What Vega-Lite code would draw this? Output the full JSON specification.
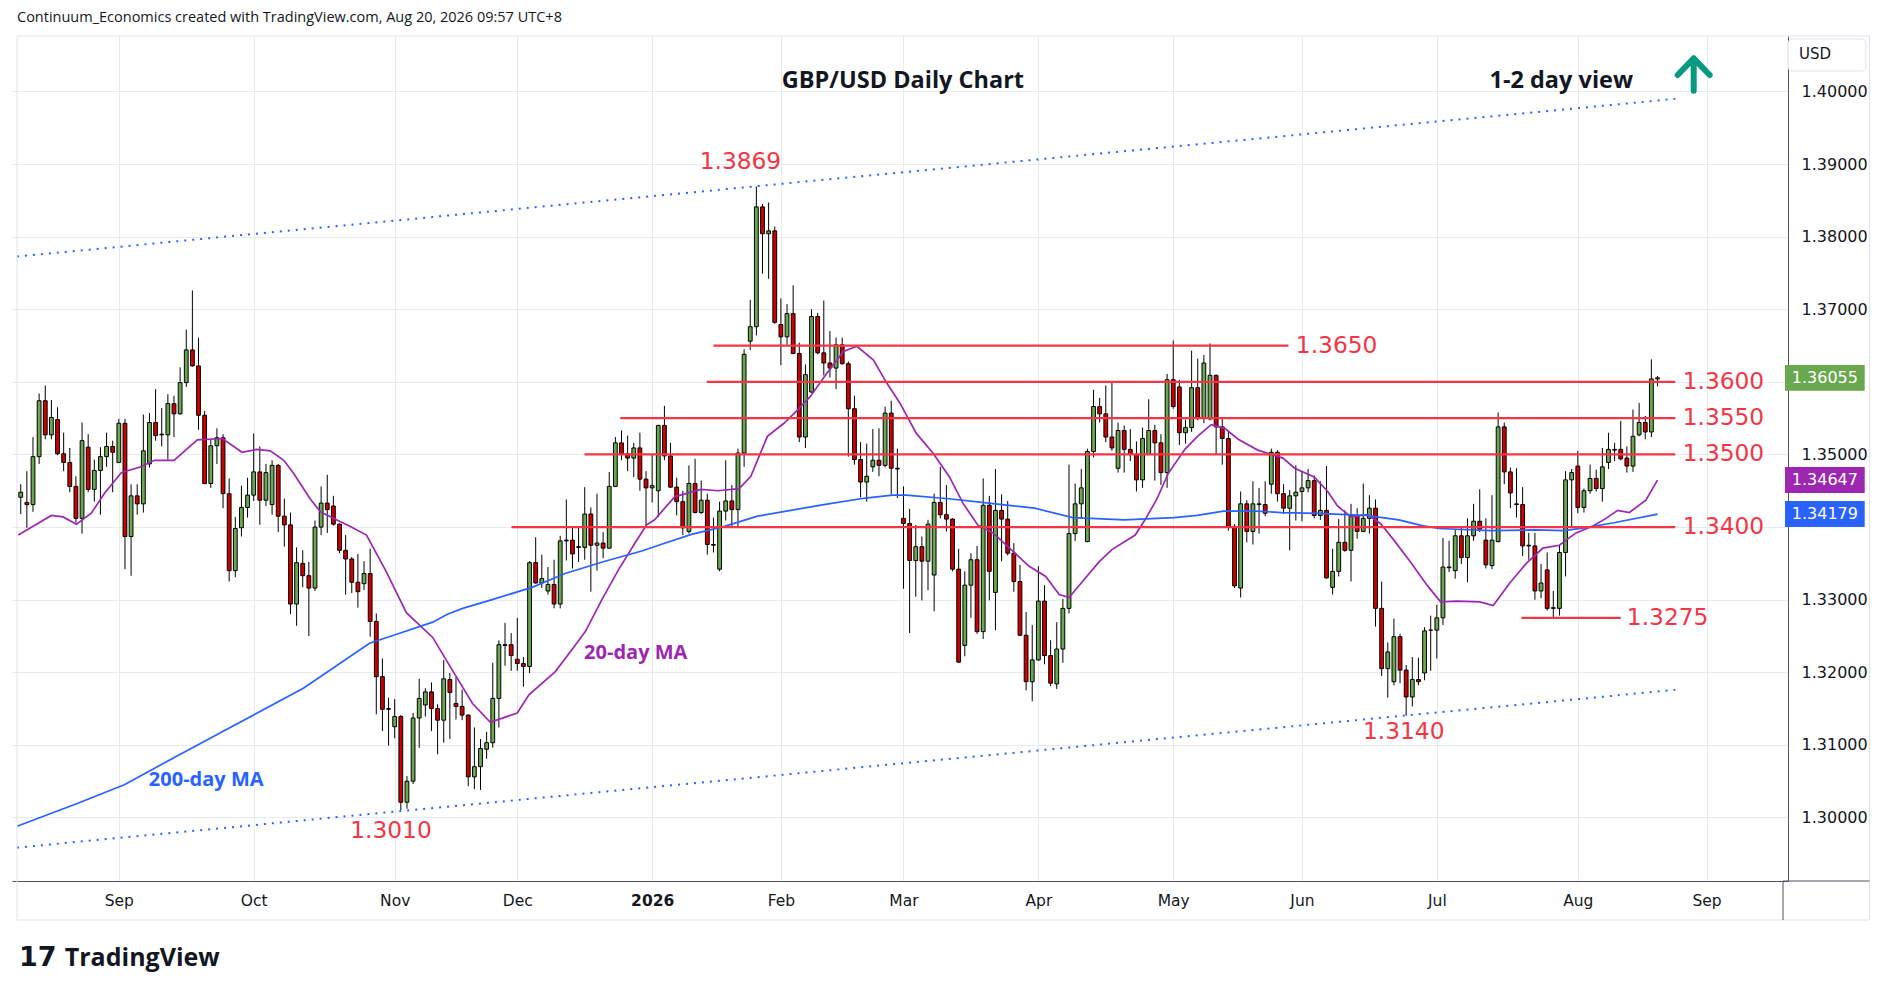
{
  "$schema": "https://vega.github.io/schema/vega-lite/v6.json",
  "width": 1776,
  "height": 845,
  "autosize": {"type": "none"},
  "padding": {"left": 12, "top": 36, "right": 100, "bottom": 115},
  "background": "#ffffff",
  "config": {"view": {"stroke": null}},
  "resolve": {"axis": {"x": "independent", "y": "independent"}},
  "datasets": {
    "candles": [
      {"d":"2025-08-08","o":1.3441,"h":1.3459,"l":1.3418,"c":1.3448},
      {"d":"2025-08-11","o":1.3434,"h":1.3477,"l":1.3399,"c":1.3431},
      {"d":"2025-08-12","o":1.3431,"h":1.3524,"l":1.3421,"c":1.3497},
      {"d":"2025-08-13","o":1.3497,"h":1.3584,"l":1.3487,"c":1.3574},
      {"d":"2025-08-14","o":1.3574,"h":1.3595,"l":1.3521,"c":1.3527},
      {"d":"2025-08-15","o":1.3527,"h":1.3575,"l":1.3521,"c":1.3551},
      {"d":"2025-08-18","o":1.3548,"h":1.3565,"l":1.3499,"c":1.3501},
      {"d":"2025-08-19","o":1.3501,"h":1.3530,"l":1.3477,"c":1.3489},
      {"d":"2025-08-20","o":1.3489,"h":1.3509,"l":1.3448,"c":1.3456},
      {"d":"2025-08-21","o":1.3456,"h":1.3470,"l":1.3406,"c":1.3412},
      {"d":"2025-08-22","o":1.3412,"h":1.3544,"l":1.3391,"c":1.3519},
      {"d":"2025-08-25","o":1.3510,"h":1.3528,"l":1.3448,"c":1.3452},
      {"d":"2025-08-26","o":1.3452,"h":1.3493,"l":1.3435,"c":1.3478},
      {"d":"2025-08-27","o":1.3478,"h":1.3510,"l":1.3417,"c":1.3497},
      {"d":"2025-08-28","o":1.3497,"h":1.3530,"l":1.3483,"c":1.3511},
      {"d":"2025-08-29","o":1.3511,"h":1.3519,"l":1.3448,"c":1.3503},
      {"d":"2025-09-01","o":1.3489,"h":1.3549,"l":1.3488,"c":1.3543},
      {"d":"2025-09-02","o":1.3543,"h":1.3549,"l":1.3342,"c":1.3387},
      {"d":"2025-09-03","o":1.3387,"h":1.3459,"l":1.3333,"c":1.3443},
      {"d":"2025-09-04","o":1.3443,"h":1.3459,"l":1.3417,"c":1.3432},
      {"d":"2025-09-05","o":1.3432,"h":1.3555,"l":1.3420,"c":1.3505},
      {"d":"2025-09-08","o":1.3487,"h":1.3557,"l":1.3482,"c":1.3544},
      {"d":"2025-09-09","o":1.3544,"h":1.3590,"l":1.3519,"c":1.3526},
      {"d":"2025-09-10","o":1.3527,"h":1.3564,"l":1.3511,"c":1.3528},
      {"d":"2025-09-11","o":1.3527,"h":1.3583,"l":1.3493,"c":1.3570},
      {"d":"2025-09-12","o":1.3570,"h":1.3581,"l":1.3524,"c":1.3556},
      {"d":"2025-09-15","o":1.3556,"h":1.3620,"l":1.3555,"c":1.3599},
      {"d":"2025-09-16","o":1.3599,"h":1.3672,"l":1.3593,"c":1.3644},
      {"d":"2025-09-17","o":1.3644,"h":1.3726,"l":1.3621,"c":1.3622},
      {"d":"2025-09-18","o":1.3622,"h":1.3661,"l":1.3534,"c":1.3554},
      {"d":"2025-09-19","o":1.3554,"h":1.3560,"l":1.3459,"c":1.3460},
      {"d":"2025-09-22","o":1.3460,"h":1.3521,"l":1.3454,"c":1.3512},
      {"d":"2025-09-23","o":1.3512,"h":1.3536,"l":1.3487,"c":1.3523},
      {"d":"2025-09-24","o":1.3523,"h":1.3528,"l":1.3426,"c":1.3446},
      {"d":"2025-09-25","o":1.3446,"h":1.3467,"l":1.3325,"c":1.3340},
      {"d":"2025-09-26","o":1.3340,"h":1.3414,"l":1.3331,"c":1.3398},
      {"d":"2025-09-29","o":1.3399,"h":1.3457,"l":1.3387,"c":1.3427},
      {"d":"2025-09-30","o":1.3427,"h":1.3468,"l":1.3413,"c":1.3444},
      {"d":"2025-10-01","o":1.3444,"h":1.3529,"l":1.3436,"c":1.3476},
      {"d":"2025-10-02","o":1.3476,"h":1.3511,"l":1.3403,"c":1.3437},
      {"d":"2025-10-03","o":1.3437,"h":1.3487,"l":1.3429,"c":1.3475},
      {"d":"2025-10-06","o":1.3431,"h":1.3492,"l":1.3417,"c":1.3485},
      {"d":"2025-10-07","o":1.3485,"h":1.3487,"l":1.3393,"c":1.3415},
      {"d":"2025-10-08","o":1.3415,"h":1.3439,"l":1.3373,"c":1.3403},
      {"d":"2025-10-09","o":1.3403,"h":1.3420,"l":1.3280,"c":1.3294},
      {"d":"2025-10-10","o":1.3294,"h":1.3372,"l":1.3264,"c":1.3351},
      {"d":"2025-10-13","o":1.3350,"h":1.3368,"l":1.3317,"c":1.3333},
      {"d":"2025-10-14","o":1.3333,"h":1.3352,"l":1.3250,"c":1.3316},
      {"d":"2025-10-15","o":1.3316,"h":1.3409,"l":1.3312,"c":1.3400},
      {"d":"2025-10-16","o":1.3400,"h":1.3456,"l":1.3389,"c":1.3433},
      {"d":"2025-10-17","o":1.3433,"h":1.3472,"l":1.3392,"c":1.3424},
      {"d":"2025-10-20","o":1.3429,"h":1.3443,"l":1.3402,"c":1.3404},
      {"d":"2025-10-21","o":1.3404,"h":1.3405,"l":1.3364,"c":1.3368},
      {"d":"2025-10-22","o":1.3368,"h":1.3389,"l":1.3307,"c":1.3356},
      {"d":"2025-10-23","o":1.3356,"h":1.3359,"l":1.3309,"c":1.3324},
      {"d":"2025-10-24","o":1.3324,"h":1.3363,"l":1.3289,"c":1.3311},
      {"d":"2025-10-27","o":1.3322,"h":1.3353,"l":1.3313,"c":1.3336},
      {"d":"2025-10-28","o":1.3336,"h":1.3370,"l":1.3249,"c":1.3270},
      {"d":"2025-10-29","o":1.3270,"h":1.3281,"l":1.3142,"c":1.3194},
      {"d":"2025-10-30","o":1.3194,"h":1.3219,"l":1.3119,"c":1.3149},
      {"d":"2025-10-31","o":1.3149,"h":1.3165,"l":1.3099,"c":1.3150},
      {"d":"2025-11-03","o":1.3125,"h":1.3163,"l":1.3109,"c":1.3139},
      {"d":"2025-11-04","o":1.3139,"h":1.3141,"l":1.3010,"c":1.3021},
      {"d":"2025-11-05","o":1.3021,"h":1.3057,"l":1.3012,"c":1.3050},
      {"d":"2025-11-06","o":1.3050,"h":1.3144,"l":1.3046,"c":1.3137},
      {"d":"2025-11-07","o":1.3137,"h":1.3191,"l":1.3096,"c":1.3164},
      {"d":"2025-11-10","o":1.3155,"h":1.3178,"l":1.3139,"c":1.3173},
      {"d":"2025-11-11","o":1.3173,"h":1.3186,"l":1.3119,"c":1.3150},
      {"d":"2025-11-12","o":1.3150,"h":1.3156,"l":1.3087,"c":1.3134},
      {"d":"2025-11-13","o":1.3134,"h":1.3217,"l":1.3103,"c":1.3191},
      {"d":"2025-11-14","o":1.3190,"h":1.3199,"l":1.3108,"c":1.3172},
      {"d":"2025-11-17","o":1.3157,"h":1.3193,"l":1.3135,"c":1.3153},
      {"d":"2025-11-18","o":1.3153,"h":1.3176,"l":1.3134,"c":1.3141},
      {"d":"2025-11-19","o":1.3141,"h":1.3142,"l":1.3043,"c":1.3056},
      {"d":"2025-11-20","o":1.3056,"h":1.3124,"l":1.3039,"c":1.3070},
      {"d":"2025-11-21","o":1.3070,"h":1.3108,"l":1.3038,"c":1.3095},
      {"d":"2025-11-24","o":1.3094,"h":1.3118,"l":1.3081,"c":1.3103},
      {"d":"2025-11-25","o":1.3103,"h":1.3213,"l":1.3096,"c":1.3164},
      {"d":"2025-11-26","o":1.3164,"h":1.3244,"l":1.3124,"c":1.3238},
      {"d":"2025-11-27","o":1.3238,"h":1.3268,"l":1.3209,"c":1.3237},
      {"d":"2025-11-28","o":1.3238,"h":1.3254,"l":1.3202,"c":1.3223},
      {"d":"2025-12-01","o":1.3218,"h":1.3275,"l":1.3202,"c":1.3212},
      {"d":"2025-12-02","o":1.3212,"h":1.3221,"l":1.3180,"c":1.3208},
      {"d":"2025-12-03","o":1.3208,"h":1.3353,"l":1.3199,"c":1.3351},
      {"d":"2025-12-04","o":1.3351,"h":1.3386,"l":1.3322,"c":1.3323},
      {"d":"2025-12-05","o":1.3323,"h":1.3362,"l":1.3316,"c":1.3329},
      {"d":"2025-12-08","o":1.3312,"h":1.3345,"l":1.3307,"c":1.3321},
      {"d":"2025-12-09","o":1.3321,"h":1.3355,"l":1.3288,"c":1.3294},
      {"d":"2025-12-10","o":1.3294,"h":1.3388,"l":1.3288,"c":1.3381},
      {"d":"2025-12-11","o":1.3382,"h":1.3438,"l":1.3354,"c":1.3381},
      {"d":"2025-12-12","o":1.3382,"h":1.3400,"l":1.3343,"c":1.3363},
      {"d":"2025-12-15","o":1.3372,"h":1.3401,"l":1.3352,"c":1.3373},
      {"d":"2025-12-16","o":1.3372,"h":1.3455,"l":1.3355,"c":1.3418},
      {"d":"2025-12-17","o":1.3418,"h":1.3427,"l":1.3311,"c":1.3375},
      {"d":"2025-12-18","o":1.3375,"h":1.3446,"l":1.3340,"c":1.3378},
      {"d":"2025-12-19","o":1.3378,"h":1.3393,"l":1.3357,"c":1.3371},
      {"d":"2025-12-22","o":1.3371,"h":1.3476,"l":1.3370,"c":1.3456},
      {"d":"2025-12-23","o":1.3456,"h":1.3524,"l":1.3455,"c":1.3516},
      {"d":"2025-12-24","o":1.3516,"h":1.3533,"l":1.3492,"c":1.3501},
      {"d":"2025-12-26","o":1.3501,"h":1.3526,"l":1.3477,"c":1.3495},
      {"d":"2025-12-29","o":1.3495,"h":1.3516,"l":1.3469,"c":1.3509},
      {"d":"2025-12-30","o":1.3509,"h":1.3530,"l":1.3450,"c":1.3466},
      {"d":"2025-12-31","o":1.3466,"h":1.3477,"l":1.3402,"c":1.3454},
      {"d":"2026-01-02","o":1.3454,"h":1.3501,"l":1.3434,"c":1.3457},
      {"d":"2026-01-05","o":1.3450,"h":1.3541,"l":1.3414,"c":1.3540},
      {"d":"2026-01-06","o":1.3540,"h":1.3567,"l":1.3492,"c":1.3498},
      {"d":"2026-01-07","o":1.3498,"h":1.3516,"l":1.3454,"c":1.3455},
      {"d":"2026-01-08","o":1.3455,"h":1.3468,"l":1.3416,"c":1.3435},
      {"d":"2026-01-09","o":1.3435,"h":1.3450,"l":1.3389,"c":1.3399},
      {"d":"2026-01-12","o":1.3394,"h":1.3485,"l":1.3391,"c":1.3460},
      {"d":"2026-01-13","o":1.3460,"h":1.3494,"l":1.3419,"c":1.3420},
      {"d":"2026-01-14","o":1.3420,"h":1.3464,"l":1.3418,"c":1.3437},
      {"d":"2026-01-15","o":1.3437,"h":1.3446,"l":1.3362,"c":1.3376},
      {"d":"2026-01-16","o":1.3376,"h":1.3413,"l":1.3365,"c":1.3375},
      {"d":"2026-01-19","o":1.3342,"h":1.3435,"l":1.3339,"c":1.3422},
      {"d":"2026-01-20","o":1.3422,"h":1.3492,"l":1.3409,"c":1.3436},
      {"d":"2026-01-21","o":1.3436,"h":1.3458,"l":1.3401,"c":1.3424},
      {"d":"2026-01-22","o":1.3424,"h":1.3508,"l":1.3401,"c":1.3502},
      {"d":"2026-01-23","o":1.3502,"h":1.3645,"l":1.3483,"c":1.3638},
      {"d":"2026-01-26","o":1.3656,"h":1.3713,"l":1.3644,"c":1.3676},
      {"d":"2026-01-27","o":1.3676,"h":1.3869,"l":1.3664,"c":1.3841},
      {"d":"2026-01-28","o":1.3841,"h":1.3845,"l":1.3749,"c":1.3804},
      {"d":"2026-01-29","o":1.3804,"h":1.3847,"l":1.3742,"c":1.3808},
      {"d":"2026-01-30","o":1.3808,"h":1.3814,"l":1.3680,"c":1.3682},
      {"d":"2026-02-02","o":1.3679,"h":1.3715,"l":1.3623,"c":1.3662},
      {"d":"2026-02-03","o":1.3662,"h":1.3707,"l":1.3651,"c":1.3694},
      {"d":"2026-02-04","o":1.3694,"h":1.3733,"l":1.3638,"c":1.3639},
      {"d":"2026-02-05","o":1.3639,"h":1.3654,"l":1.3517,"c":1.3524},
      {"d":"2026-02-06","o":1.3524,"h":1.3624,"l":1.3509,"c":1.3610},
      {"d":"2026-02-09","o":1.3586,"h":1.3700,"l":1.3585,"c":1.3690},
      {"d":"2026-02-10","o":1.3690,"h":1.3695,"l":1.3638,"c":1.3640},
      {"d":"2026-02-11","o":1.3640,"h":1.3712,"l":1.3609,"c":1.3626},
      {"d":"2026-02-12","o":1.3626,"h":1.3670,"l":1.3606,"c":1.3619},
      {"d":"2026-02-13","o":1.3619,"h":1.3661,"l":1.3590,"c":1.3651},
      {"d":"2026-02-16","o":1.3651,"h":1.3661,"l":1.3624,"c":1.3625},
      {"d":"2026-02-17","o":1.3625,"h":1.3628,"l":1.3497,"c":1.3563},
      {"d":"2026-02-18","o":1.3563,"h":1.3581,"l":1.3486,"c":1.3493},
      {"d":"2026-02-19","o":1.3493,"h":1.3517,"l":1.3441,"c":1.3462},
      {"d":"2026-02-20","o":1.3462,"h":1.3515,"l":1.3435,"c":1.3470},
      {"d":"2026-02-23","o":1.3483,"h":1.3535,"l":1.3476,"c":1.3492},
      {"d":"2026-02-24","o":1.3492,"h":1.3536,"l":1.3470,"c":1.3485},
      {"d":"2026-02-25","o":1.3485,"h":1.3566,"l":1.3482,"c":1.3557},
      {"d":"2026-02-26","o":1.3557,"h":1.3574,"l":1.3445,"c":1.3481},
      {"d":"2026-02-27","o":1.3481,"h":1.3508,"l":1.3440,"c":1.3480},
      {"d":"2026-03-02","o":1.3412,"h":1.3456,"l":1.3315,"c":1.3405},
      {"d":"2026-03-03","o":1.3405,"h":1.3425,"l":1.3254,"c":1.3354},
      {"d":"2026-03-04","o":1.3354,"h":1.3403,"l":1.3304,"c":1.3373},
      {"d":"2026-03-05","o":1.3373,"h":1.3387,"l":1.3299,"c":1.3353},
      {"d":"2026-03-06","o":1.3353,"h":1.3410,"l":1.3313,"c":1.3404},
      {"d":"2026-03-09","o":1.3334,"h":1.3446,"l":1.3284,"c":1.3434},
      {"d":"2026-03-10","o":1.3434,"h":1.3483,"l":1.3412,"c":1.3417},
      {"d":"2026-03-11","o":1.3417,"h":1.3458,"l":1.3394,"c":1.3411},
      {"d":"2026-03-12","o":1.3411,"h":1.3412,"l":1.3339,"c":1.3342},
      {"d":"2026-03-13","o":1.3342,"h":1.3370,"l":1.3213,"c":1.3214},
      {"d":"2026-03-16","o":1.3237,"h":1.3339,"l":1.3222,"c":1.3320},
      {"d":"2026-03-17","o":1.3320,"h":1.3364,"l":1.3275,"c":1.3355},
      {"d":"2026-03-18","o":1.3355,"h":1.3374,"l":1.3253,"c":1.3256},
      {"d":"2026-03-19","o":1.3256,"h":1.3467,"l":1.3246,"c":1.3430},
      {"d":"2026-03-20","o":1.3430,"h":1.3443,"l":1.3299,"c":1.3339},
      {"d":"2026-03-23","o":1.3310,"h":1.3480,"l":1.3258,"c":1.3423},
      {"d":"2026-03-24","o":1.3423,"h":1.3445,"l":1.3353,"c":1.3411},
      {"d":"2026-03-25","o":1.3411,"h":1.3436,"l":1.3361,"c":1.3364},
      {"d":"2026-03-26","o":1.3364,"h":1.3378,"l":1.3311,"c":1.3325},
      {"d":"2026-03-27","o":1.3325,"h":1.3348,"l":1.3250,"c":1.3251},
      {"d":"2026-03-30","o":1.3251,"h":1.3283,"l":1.3175,"c":1.3187},
      {"d":"2026-03-31","o":1.3187,"h":1.3265,"l":1.3160,"c":1.3217},
      {"d":"2026-04-01","o":1.3217,"h":1.3346,"l":1.3216,"c":1.3298},
      {"d":"2026-04-02","o":1.3298,"h":1.3320,"l":1.3211,"c":1.3223},
      {"d":"2026-04-03","o":1.3223,"h":1.3244,"l":1.3181,"c":1.3185},
      {"d":"2026-04-06","o":1.3184,"h":1.3269,"l":1.3177,"c":1.3232},
      {"d":"2026-04-07","o":1.3232,"h":1.3301,"l":1.3213,"c":1.3288},
      {"d":"2026-04-08","o":1.3288,"h":1.3486,"l":1.3281,"c":1.3391},
      {"d":"2026-04-09","o":1.3391,"h":1.3460,"l":1.3381,"c":1.3432},
      {"d":"2026-04-10","o":1.3432,"h":1.3480,"l":1.3411,"c":1.3454},
      {"d":"2026-04-13","o":1.3380,"h":1.3508,"l":1.3379,"c":1.3504},
      {"d":"2026-04-14","o":1.3504,"h":1.3589,"l":1.3496,"c":1.3566},
      {"d":"2026-04-15","o":1.3566,"h":1.3578,"l":1.3544,"c":1.3556},
      {"d":"2026-04-16","o":1.3556,"h":1.3595,"l":1.3517,"c":1.3524},
      {"d":"2026-04-17","o":1.3524,"h":1.3599,"l":1.3505,"c":1.3509},
      {"d":"2026-04-20","o":1.3481,"h":1.3544,"l":1.3475,"c":1.3533},
      {"d":"2026-04-21","o":1.3533,"h":1.3540,"l":1.3475,"c":1.3507},
      {"d":"2026-04-22","o":1.3507,"h":1.3535,"l":1.3491,"c":1.3500},
      {"d":"2026-04-23","o":1.3500,"h":1.3518,"l":1.3449,"c":1.3465},
      {"d":"2026-04-24","o":1.3465,"h":1.3537,"l":1.3454,"c":1.3522},
      {"d":"2026-04-27","o":1.3500,"h":1.3576,"l":1.3499,"c":1.3533},
      {"d":"2026-04-28","o":1.3533,"h":1.3541,"l":1.3464,"c":1.3516},
      {"d":"2026-04-29","o":1.3516,"h":1.3528,"l":1.3458,"c":1.3475},
      {"d":"2026-04-30","o":1.3475,"h":1.3611,"l":1.3454,"c":1.3603},
      {"d":"2026-05-01","o":1.3603,"h":1.3657,"l":1.3563,"c":1.3566},
      {"d":"2026-05-04","o":1.3593,"h":1.3603,"l":1.3513,"c":1.3530},
      {"d":"2026-05-05","o":1.3530,"h":1.3548,"l":1.3515,"c":1.3537},
      {"d":"2026-05-06","o":1.3537,"h":1.3643,"l":1.3531,"c":1.3592},
      {"d":"2026-05-07","o":1.3592,"h":1.3632,"l":1.3547,"c":1.3551},
      {"d":"2026-05-08","o":1.3551,"h":1.3637,"l":1.3543,"c":1.3626},
      {"d":"2026-05-11","o":1.3549,"h":1.3653,"l":1.3547,"c":1.3609},
      {"d":"2026-05-12","o":1.3609,"h":1.3610,"l":1.3500,"c":1.3538},
      {"d":"2026-05-13","o":1.3538,"h":1.3551,"l":1.3486,"c":1.3522},
      {"d":"2026-05-14","o":1.3522,"h":1.3532,"l":1.3395,"c":1.3401},
      {"d":"2026-05-15","o":1.3401,"h":1.3404,"l":1.3316,"c":1.3319},
      {"d":"2026-05-18","o":1.3316,"h":1.3449,"l":1.3303,"c":1.3432},
      {"d":"2026-05-19","o":1.3432,"h":1.3437,"l":1.3379,"c":1.3394},
      {"d":"2026-05-20","o":1.3394,"h":1.3463,"l":1.3376,"c":1.3432},
      {"d":"2026-05-21","o":1.3432,"h":1.3454,"l":1.3391,"c":1.3431},
      {"d":"2026-05-22","o":1.3431,"h":1.3463,"l":1.3415,"c":1.3419},
      {"d":"2026-05-25","o":1.3459,"h":1.3508,"l":1.3446,"c":1.3503},
      {"d":"2026-05-26","o":1.3503,"h":1.3506,"l":1.3435,"c":1.3446},
      {"d":"2026-05-27","o":1.3446,"h":1.3459,"l":1.3418,"c":1.3426},
      {"d":"2026-05-28","o":1.3426,"h":1.3451,"l":1.3368,"c":1.3443},
      {"d":"2026-05-29","o":1.3443,"h":1.3485,"l":1.3409,"c":1.3448},
      {"d":"2026-06-01","o":1.3449,"h":1.3476,"l":1.3408,"c":1.3454},
      {"d":"2026-06-02","o":1.3454,"h":1.3480,"l":1.3448,"c":1.3464},
      {"d":"2026-06-03","o":1.3464,"h":1.3471,"l":1.3412,"c":1.3416},
      {"d":"2026-06-04","o":1.3416,"h":1.3463,"l":1.3410,"c":1.3423},
      {"d":"2026-06-05","o":1.3423,"h":1.3484,"l":1.3329,"c":1.3330},
      {"d":"2026-06-08","o":1.3317,"h":1.3370,"l":1.3307,"c":1.3339},
      {"d":"2026-06-09","o":1.3339,"h":1.3411,"l":1.3332,"c":1.3379},
      {"d":"2026-06-10","o":1.3379,"h":1.3423,"l":1.3366,"c":1.3368},
      {"d":"2026-06-11","o":1.3368,"h":1.3432,"l":1.3325,"c":1.3416},
      {"d":"2026-06-12","o":1.3416,"h":1.3426,"l":1.3384,"c":1.3394},
      {"d":"2026-06-15","o":1.3394,"h":1.3460,"l":1.3393,"c":1.3412},
      {"d":"2026-06-16","o":1.3412,"h":1.3444,"l":1.3391,"c":1.3426},
      {"d":"2026-06-17","o":1.3426,"h":1.3438,"l":1.3263,"c":1.3288},
      {"d":"2026-06-18","o":1.3288,"h":1.3325,"l":1.3195,"c":1.3205},
      {"d":"2026-06-19","o":1.3205,"h":1.3241,"l":1.3165,"c":1.3228},
      {"d":"2026-06-22","o":1.3187,"h":1.3274,"l":1.3182,"c":1.3249},
      {"d":"2026-06-23","o":1.3249,"h":1.3253,"l":1.3185,"c":1.3203},
      {"d":"2026-06-24","o":1.3203,"h":1.3210,"l":1.3140,"c":1.3166},
      {"d":"2026-06-25","o":1.3166,"h":1.3221,"l":1.3153,"c":1.3190},
      {"d":"2026-06-26","o":1.3190,"h":1.3220,"l":1.3182,"c":1.3187},
      {"d":"2026-06-29","o":1.3199,"h":1.3262,"l":1.3189,"c":1.3257},
      {"d":"2026-06-30","o":1.3258,"h":1.3278,"l":1.3202,"c":1.3258},
      {"d":"2026-07-01","o":1.3258,"h":1.3293,"l":1.3219,"c":1.3275},
      {"d":"2026-07-02","o":1.3275,"h":1.3385,"l":1.3265,"c":1.3345},
      {"d":"2026-07-03","o":1.3344,"h":1.3381,"l":1.3338,"c":1.3345},
      {"d":"2026-07-06","o":1.3340,"h":1.3397,"l":1.3329,"c":1.3388},
      {"d":"2026-07-07","o":1.3388,"h":1.3401,"l":1.3349,"c":1.3358},
      {"d":"2026-07-08","o":1.3358,"h":1.3412,"l":1.3324,"c":1.3388},
      {"d":"2026-07-09","o":1.3388,"h":1.3432,"l":1.3381,"c":1.3408},
      {"d":"2026-07-10","o":1.3408,"h":1.3452,"l":1.3393,"c":1.3397},
      {"d":"2026-07-13","o":1.3382,"h":1.3412,"l":1.3343,"c":1.3348},
      {"d":"2026-07-14","o":1.3347,"h":1.3444,"l":1.3342,"c":1.3382},
      {"d":"2026-07-15","o":1.3380,"h":1.3558,"l":1.3379,"c":1.3538},
      {"d":"2026-07-16","o":1.3538,"h":1.3544,"l":1.3459,"c":1.3476},
      {"d":"2026-07-17","o":1.3476,"h":1.3482,"l":1.3426,"c":1.3447},
      {"d":"2026-07-20","o":1.3432,"h":1.3481,"l":1.3413,"c":1.3431},
      {"d":"2026-07-21","o":1.3431,"h":1.3455,"l":1.3360,"c":1.3374},
      {"d":"2026-07-22","o":1.3374,"h":1.3392,"l":1.3355,"c":1.3375},
      {"d":"2026-07-23","o":1.3374,"h":1.3392,"l":1.3300,"c":1.3312},
      {"d":"2026-07-24","o":1.3312,"h":1.3349,"l":1.3302,"c":1.3323},
      {"d":"2026-07-27","o":1.3341,"h":1.3365,"l":1.3285,"c":1.3288},
      {"d":"2026-07-28","o":1.3289,"h":1.3312,"l":1.3274,"c":1.3288},
      {"d":"2026-07-29","o":1.3288,"h":1.3376,"l":1.3278,"c":1.3365},
      {"d":"2026-07-30","o":1.3365,"h":1.3477,"l":1.3332,"c":1.3465},
      {"d":"2026-07-31","o":1.3465,"h":1.3480,"l":1.3401,"c":1.3475},
      {"d":"2026-08-03","o":1.3484,"h":1.3505,"l":1.3419,"c":1.3427},
      {"d":"2026-08-04","o":1.3427,"h":1.3453,"l":1.3420,"c":1.3450},
      {"d":"2026-08-05","o":1.3450,"h":1.3486,"l":1.3446,"c":1.3467},
      {"d":"2026-08-06","o":1.3467,"h":1.3479,"l":1.3449,"c":1.3453},
      {"d":"2026-08-07","o":1.3453,"h":1.3509,"l":1.3435,"c":1.3483},
      {"d":"2026-08-10","o":1.3489,"h":1.3530,"l":1.3480,"c":1.3507},
      {"d":"2026-08-11","o":1.3507,"h":1.3516,"l":1.3491,"c":1.3506},
      {"d":"2026-08-12","o":1.3507,"h":1.3546,"l":1.3492,"c":1.3494},
      {"d":"2026-08-13","o":1.3495,"h":1.3511,"l":1.3475,"c":1.3484},
      {"d":"2026-08-14","o":1.3484,"h":1.3562,"l":1.3476,"c":1.3525},
      {"d":"2026-08-17","o":1.3527,"h":1.3571,"l":1.3525,"c":1.3544},
      {"d":"2026-08-18","o":1.3544,"h":1.3553,"l":1.3521,"c":1.3531},
      {"d":"2026-08-19","o":1.3531,"h":1.3631,"l":1.3524,"c":1.3604},
      {"d":"2026-08-20","o":1.3604,"h":1.3608,"l":1.3594,"c":1.36055}
    ],
    "ma": [
      {"ma":"20","n":0.6,"v":1.3389},{"ma":"20","n":6.0,"v":1.3416},{"ma":"20","n":7.9,"v":1.3414},
      {"ma":"20","n":10.1,"v":1.3404},{"ma":"20","n":12.5,"v":1.3419},{"ma":"20","n":14.7,"v":1.3447},
      {"ma":"20","n":17.4,"v":1.3475},{"ma":"20","n":20.6,"v":1.3483},{"ma":"20","n":22.8,"v":1.3492},
      {"ma":"20","n":26.0,"v":1.3492},{"ma":"20","n":29.8,"v":1.3520},{"ma":"20","n":33.9,"v":1.3522},
      {"ma":"20","n":37.1,"v":1.3503},{"ma":"20","n":39.5,"v":1.3507},{"ma":"20","n":41.7,"v":1.3505},
      {"ma":"20","n":43.9,"v":1.3492},{"ma":"20","n":45.5,"v":1.3474},{"ma":"20","n":48.2,"v":1.3439},
      {"ma":"20","n":49.9,"v":1.3421},{"ma":"20","n":52.5,"v":1.3410},{"ma":"20","n":54.7,"v":1.3401},
      {"ma":"20","n":57.4,"v":1.3389},{"ma":"20","n":60.6,"v":1.3339},{"ma":"20","n":63.9,"v":1.3282},
      {"ma":"20","n":68.2,"v":1.3248},{"ma":"20","n":71.4,"v":1.3203},{"ma":"20","n":74.7,"v":1.3157},
      {"ma":"20","n":77.6,"v":1.3131},{"ma":"20","n":82.0,"v":1.3144},{"ma":"20","n":83.9,"v":1.3169},
      {"ma":"20","n":88.2,"v":1.3201},{"ma":"20","n":90.9,"v":1.3231},{"ma":"20","n":93.1,"v":1.3256},
      {"ma":"20","n":95.8,"v":1.3300},{"ma":"20","n":98.5,"v":1.3341},{"ma":"20","n":101.2,"v":1.3378},
      {"ma":"20","n":103.1,"v":1.3403},{"ma":"20","n":104.4,"v":1.3410},{"ma":"20","n":107.7,"v":1.3442},
      {"ma":"20","n":112.0,"v":1.3452},{"ma":"20","n":114.7,"v":1.3450},{"ma":"20","n":118.2,"v":1.3453},
      {"ma":"20","n":120.1,"v":1.3470},{"ma":"20","n":122.8,"v":1.3525},{"ma":"20","n":125.5,"v":1.3543},
      {"ma":"20","n":127.7,"v":1.3561},{"ma":"20","n":129.8,"v":1.3580},{"ma":"20","n":132.5,"v":1.3612},
      {"ma":"20","n":135.2,"v":1.3642},{"ma":"20","n":137.4,"v":1.3649},{"ma":"20","n":140.1,"v":1.3630},
      {"ma":"20","n":142.3,"v":1.3598},{"ma":"20","n":144.4,"v":1.3571},{"ma":"20","n":147.1,"v":1.3529},
      {"ma":"20","n":149.8,"v":1.3502},{"ma":"20","n":152.5,"v":1.3469},{"ma":"20","n":154.7,"v":1.3433},
      {"ma":"20","n":157.1,"v":1.3403},{"ma":"20","n":159.6,"v":1.3392},{"ma":"20","n":162.3,"v":1.3371},
      {"ma":"20","n":165.5,"v":1.3346},{"ma":"20","n":168.2,"v":1.3332},{"ma":"20","n":170.4,"v":1.3307},
      {"ma":"20","n":172.0,"v":1.3303},{"ma":"20","n":174.2,"v":1.3325},{"ma":"20","n":176.9,"v":1.3352},
      {"ma":"20","n":179.0,"v":1.3369},{"ma":"20","n":182.8,"v":1.3389},{"ma":"20","n":184.4,"v":1.3410},
      {"ma":"20","n":186.3,"v":1.3438},{"ma":"20","n":188.2,"v":1.3474},{"ma":"20","n":190.9,"v":1.3507},
      {"ma":"20","n":193.1,"v":1.3526},{"ma":"20","n":195.2,"v":1.3541},{"ma":"20","n":197.4,"v":1.3536},
      {"ma":"20","n":199.6,"v":1.3521},{"ma":"20","n":202.8,"v":1.3506},{"ma":"20","n":206.9,"v":1.3495},
      {"ma":"20","n":208.8,"v":1.3481},{"ma":"20","n":212.0,"v":1.3469},{"ma":"20","n":214.2,"v":1.3449},
      {"ma":"20","n":215.8,"v":1.3429},{"ma":"20","n":218.0,"v":1.3414},{"ma":"20","n":220.7,"v":1.3417},
      {"ma":"20","n":222.8,"v":1.3405},{"ma":"20","n":225.0,"v":1.3382},{"ma":"20","n":227.7,"v":1.3352},
      {"ma":"20","n":230.4,"v":1.3320},{"ma":"20","n":232.6,"v":1.3297},{"ma":"20","n":235.3,"v":1.3298},
      {"ma":"20","n":239.0,"v":1.3297},{"ma":"20","n":241.2,"v":1.3292},{"ma":"20","n":243.9,"v":1.3323},
      {"ma":"20","n":246.6,"v":1.3350},{"ma":"20","n":249.3,"v":1.3371},{"ma":"20","n":252.0,"v":1.3375},
      {"ma":"20","n":254.7,"v":1.3392},{"ma":"20","n":257.4,"v":1.3401},{"ma":"20","n":259.6,"v":1.3412},
      {"ma":"20","n":261.5,"v":1.3423},{"ma":"20","n":263.4,"v":1.3420},{"ma":"20","n":266.1,"v":1.3437},
      {"ma":"20","n":268.0,"v":1.34647},
      {"ma":"200","n":0.4,"v":1.2988},{"ma":"200","n":10.1,"v":1.3019},{"ma":"200","n":17.9,"v":1.3045},
      {"ma":"200","n":25.9,"v":1.3082},{"ma":"200","n":34.1,"v":1.3119},{"ma":"200","n":47.1,"v":1.3178},
      {"ma":"200","n":57.9,"v":1.3240},{"ma":"200","n":62.2,"v":1.3252},{"ma":"200","n":68.2,"v":1.3269},
      {"ma":"200","n":70.6,"v":1.3280},{"ma":"200","n":73.1,"v":1.3288},{"ma":"200","n":77.9,"v":1.3300},
      {"ma":"200","n":84.4,"v":1.3317},{"ma":"200","n":89.8,"v":1.3336},{"ma":"200","n":96.3,"v":1.3353},
      {"ma":"200","n":102.3,"v":1.3367},{"ma":"200","n":104.7,"v":1.3374},{"ma":"200","n":110.4,"v":1.3390},
      {"ma":"200","n":115.8,"v":1.3401},{"ma":"200","n":121.2,"v":1.3415},{"ma":"200","n":126.6,"v":1.3423},
      {"ma":"200","n":132.0,"v":1.3431},{"ma":"200","n":138.8,"v":1.3440},{"ma":"200","n":143.2,"v":1.3444},
      {"ma":"200","n":145.4,"v":1.3444},{"ma":"200","n":152.4,"v":1.3439},{"ma":"200","n":157.8,"v":1.3434},
      {"ma":"200","n":166.4,"v":1.3426},{"ma":"200","n":172.6,"v":1.3413},{"ma":"200","n":175.6,"v":1.3412},
      {"ma":"200","n":181.0,"v":1.3410},{"ma":"200","n":189.1,"v":1.3413},{"ma":"200","n":192.9,"v":1.3416},
      {"ma":"200","n":197.2,"v":1.3422},{"ma":"200","n":202.6,"v":1.3422},{"ma":"200","n":206.7,"v":1.3420},
      {"ma":"200","n":212.3,"v":1.3419},{"ma":"200","n":220.4,"v":1.3416},{"ma":"200","n":225.8,"v":1.3410},
      {"ma":"200","n":229.6,"v":1.3402},{"ma":"200","n":232.3,"v":1.3398},{"ma":"200","n":240.7,"v":1.3395},
      {"ma":"200","n":247.9,"v":1.3396},{"ma":"200","n":252.8,"v":1.3395},{"ma":"200","n":256.0,"v":1.3399},
      {"ma":"200","n":260.9,"v":1.3406},{"ma":"200","n":268.0,"v":1.34179}
    ],
    "channel": [
      {"side":"upper","n":0.39,"p":1.37727},{"side":"upper","n":270.9,"p":1.39898},
      {"side":"lower","n":0.39,"p":1.29585},{"side":"lower","n":270.9,"p":1.31758}
    ],
    "levels": [
      {"p":1.365,"n1":114.0,"n2":207.8},
      {"p":1.36,"n1":112.9,"n2":270.9},
      {"p":1.355,"n1":98.8,"n2":270.9},
      {"p":1.35,"n1":92.96,"n2":270.9},
      {"p":1.34,"n1":81.05,"n2":270.9},
      {"p":1.3275,"n1":245.8,"n2":262.0}
    ],
    "levelLabels": [
      {"t":"1.3650","n":209.0,"p":1.365},
      {"t":"1.3600","n":272.1,"p":1.36},
      {"t":"1.3550","n":272.1,"p":1.355},
      {"t":"1.3500","n":272.1,"p":1.35},
      {"t":"1.3400","n":272.1,"p":1.34},
      {"t":"1.3275","n":263.0,"p":1.3275}
    ],
    "pointLabels": [
      {"t":"1.3869","n":118.4,"p":1.39022},
      {"t":"1.3010","n":61.4,"p":1.29817},
      {"t":"1.3140","n":226.6,"p":1.31178}
    ],
    "maLabels": [
      {"ma":"20","t":"20-day MA","n":92.9,"p":1.32259},
      {"ma":"200","t":"200-day MA","n":21.9,"p":1.30514}
    ],
    "tags": [
      {"ma":"px","v":1.36055,"t":"1.36055"},
      {"ma":"20","v":1.34647,"t":"1.34647"},
      {"ma":"200","v":1.34179,"t":"1.34179"}
    ],
    "heads": [
      {"t":"GBP/USD Daily Chart","n":144.9,"p":1.40145},
      {"t":"1-2 day view","n":252.3,"p":1.40149}
    ],
    "frame": [
      {"k":"light","n1":0.39,"n2":302.58,"p1":1.40764,"p2":1.40764},
      {"k":"light","n1":0.39,"n2":302.58,"p1":1.28588,"p2":1.28588},
      {"k":"light","n1":0.39,"n2":0.39,"p1":1.28588,"p2":1.40764},
      {"k":"light","n1":302.58,"n2":302.58,"p1":1.28588,"p2":1.40764},
      {"k":"dark","n1":288.47,"n2":288.47,"p1":1.28588,"p2":1.29125},
      {"k":"dark","n1":288.47,"n2":302.58,"p1":1.29125,"p2":1.29125}
    ]
  },
  "layer": [
    {
      "data": {"name": "candles"},
      "transform": [
        {"window": [{"op": "row_number", "as": "n"}], "sort": [{"field": "d"}]}
      ],
      "mark": {"type": "rule", "color": "#000000", "strokeWidth": 1},
      "encoding": {
        "x": {
          "field": "n", "type": "quantitative",
          "scale": {"domain": [0.39, 288.47], "nice": false, "zero": false},
          "axis": {
            "title": null,
            "values": [17, 39, 62, 82, 104, 125, 145, 167, 189, 210, 232, 255, 276],
            "labelExpr": "['Sep','Oct','Nov','Dec','2026','Feb','Mar','Apr','May','Jun','Jul','Aug','Sep'][indexof([17,39,62,82,104,125,145,167,189,210,232,255,276], datum.value)]",
            "grid": true, "gridColor": "#e6ebf0", "gridWidth": 1,
            "ticks": false, "tickSize": 0,
            "domainColor": "#50535e", "domainWidth": 1,
            "labelFont": "DejaVu Sans", "labelFontSize": 15.5, "labelColor": "#131722",
            "labelPadding": 19, "labelBaseline": "middle",
            "labelFontWeight": {"condition": {"test": "datum.value == 104", "value": "bold"}, "value": "normal"},
            "labelOverlap": false, "labelFlush": false
          }
        },
        "y": {
          "field": "l", "type": "quantitative",
          "scale": {"domain": [1.29125, 1.40764], "nice": false, "zero": false},
          "axis": {
            "title": null, "orient": "right",
            "values": [1.30, 1.31, 1.32, 1.33, 1.34, 1.35, 1.36, 1.37, 1.38, 1.39, 1.40],
            "labelExpr": "datum.value == 1.34 || datum.value == 1.36 ? '' : format(datum.value, '.5f')",
            "grid": true, "gridColor": "#e6ebf0", "gridWidth": 1,
            "ticks": false, "tickSize": 0,
            "domainColor": "#50535e", "domainWidth": 1,
            "labelFont": "DejaVu Sans", "labelFontSize": 16, "labelColor": "#131722",
            "labelPadding": 13, "labelAlign": "left", "labelOverlap": false
          }
        },
        "y2": {"field": "h"}
      }
    },
    {
      "data": {"name": "candles"},
      "transform": [
        {"window": [{"op": "row_number", "as": "n"}], "sort": [{"field": "d"}]}
      ],
      "mark": {"type": "bar", "width": 3.8, "stroke": "#000000", "strokeWidth": 1},
      "encoding": {
        "x": {"field": "n", "type": "quantitative", "scale": {"domain": [0.39, 288.47], "nice": false, "zero": false}, "axis": null},
        "y": {"field": "o", "type": "quantitative", "scale": {"domain": [1.29125, 1.40764], "nice": false, "zero": false}, "axis": null},
        "y2": {"field": "c"},
        "fill": {"condition": {"test": "datum.c >= datum.o", "value": "#6aa84f"}, "value": "#cc0000"}
      }
    },
    {
      "data": {"name": "ma"},
      "mark": {"type": "line", "strokeWidth": 1.7},
      "encoding": {
        "x": {"field": "n", "type": "quantitative", "scale": {"domain": [0.39, 288.47], "nice": false, "zero": false}, "axis": null},
        "y": {"field": "v", "type": "quantitative", "scale": {"domain": [1.29125, 1.40764], "nice": false, "zero": false}, "axis": null},
        "color": {"field": "ma", "type": "nominal", "scale": {"domain": ["20", "200", "px"], "range": ["#9c27b0", "#2962ff", "#6aa84f"]}, "legend": null}
      }
    },
    {
      "data": {"name": "channel"},
      "mark": {"type": "line", "color": "#2962ff", "strokeWidth": 2, "strokeDash": [2, 6]},
      "encoding": {
        "x": {"field": "n", "type": "quantitative", "scale": {"domain": [0.39, 288.47], "nice": false, "zero": false}, "axis": null},
        "y": {"field": "p", "type": "quantitative", "scale": {"domain": [1.29125, 1.40764], "nice": false, "zero": false}, "axis": null},
        "detail": {"field": "side"}
      }
    },
    {
      "data": {"name": "frame"},
      "mark": {"type": "rule", "strokeWidth": 1},
      "encoding": {
        "x": {"field": "n1", "type": "quantitative", "scale": {"domain": [0.39, 288.47], "nice": false, "zero": false}, "axis": null},
        "x2": {"field": "n2"},
        "y": {"field": "p1", "type": "quantitative", "scale": {"domain": [1.29125, 1.40764], "nice": false, "zero": false}, "axis": null},
        "y2": {"field": "p2"},
        "color": {"condition": {"test": "datum.k == 'dark'", "value": "#50535e"}, "value": "#e0e3eb"}
      }
    },
    {
      "data": {"name": "levels"},
      "mark": {"type": "rule", "color": "#f23645", "strokeWidth": 2.2},
      "encoding": {
        "x": {"field": "n1", "type": "quantitative", "scale": {"domain": [0.39, 288.47], "nice": false, "zero": false}, "axis": null},
        "x2": {"field": "n2"},
        "y": {"field": "p", "type": "quantitative", "scale": {"domain": [1.29125, 1.40764], "nice": false, "zero": false}, "axis": null}
      }
    },
    {
      "data": {"name": "levelLabels"},
      "mark": {"type": "text", "align": "left", "baseline": "middle", "font": "DejaVu Sans", "fontSize": 23.3, "color": "#f23645"},
      "encoding": {
        "x": {"field": "n", "type": "quantitative", "scale": {"domain": [0.39, 288.47], "nice": false, "zero": false}, "axis": null},
        "y": {"field": "p", "type": "quantitative", "scale": {"domain": [1.29125, 1.40764], "nice": false, "zero": false}, "axis": null},
        "text": {"field": "t"}
      }
    },
    {
      "data": {"name": "pointLabels"},
      "mark": {"type": "text", "align": "center", "baseline": "middle", "font": "DejaVu Sans", "fontSize": 23.3, "color": "#f23645"},
      "encoding": {
        "x": {"field": "n", "type": "quantitative", "scale": {"domain": [0.39, 288.47], "nice": false, "zero": false}, "axis": null},
        "y": {"field": "p", "type": "quantitative", "scale": {"domain": [1.29125, 1.40764], "nice": false, "zero": false}, "axis": null},
        "text": {"field": "t"}
      }
    },
    {
      "data": {"name": "maLabels"},
      "mark": {"type": "text", "align": "left", "baseline": "middle", "font": "Open Sans", "fontSize": 20, "fontWeight": "bold"},
      "encoding": {
        "x": {"field": "n", "type": "quantitative", "scale": {"domain": [0.39, 288.47], "nice": false, "zero": false}, "axis": null},
        "y": {"field": "p", "type": "quantitative", "scale": {"domain": [1.29125, 1.40764], "nice": false, "zero": false}, "axis": null},
        "text": {"field": "t"},
        "color": {"field": "ma", "type": "nominal", "legend": null}
      }
    },
    {
      "data": {"name": "tags"},
      "transform": [
        {"calculate": "datum.v + 0.00179", "as": "top"},
        {"calculate": "datum.v - 0.00179", "as": "bot"}
      ],
      "mark": {"type": "rect"},
      "encoding": {
        "x": {"datum": 288.8, "type": "quantitative", "scale": {"domain": [0.39, 288.47], "nice": false, "zero": false}, "axis": null},
        "x2": {"datum": 301.8},
        "y": {"field": "top", "type": "quantitative", "scale": {"domain": [1.29125, 1.40764], "nice": false, "zero": false}, "axis": null},
        "y2": {"field": "bot"},
        "color": {"field": "ma", "type": "nominal", "legend": null}
      }
    },
    {
      "data": {"name": "tags"},
      "mark": {"type": "text", "align": "center", "baseline": "middle", "font": "DejaVu Sans", "fontSize": 16, "color": "#ffffff"},
      "encoding": {
        "x": {"datum": 295.3, "type": "quantitative", "scale": {"domain": [0.39, 288.47], "nice": false, "zero": false}, "axis": null},
        "y": {"field": "v", "type": "quantitative", "scale": {"domain": [1.29125, 1.40764], "nice": false, "zero": false}, "axis": null},
        "text": {"field": "t"}
      }
    },
    {
      "data": {"values": [{"t": "USD"}]},
      "mark": {"type": "rect", "fill": "#ffffff", "stroke": "#e0e3eb", "strokeWidth": 1, "cornerRadius": 4},
      "encoding": {
        "x": {"datum": 289.3, "type": "quantitative", "scale": {"domain": [0.39, 288.47], "nice": false, "zero": false}, "axis": null},
        "x2": {"datum": 302.0},
        "y": {"datum": 1.40723, "type": "quantitative", "scale": {"domain": [1.29125, 1.40764], "nice": false, "zero": false}, "axis": null},
        "y2": {"datum": 1.40282}
      }
    },
    {
      "data": {"values": [{"t": "USD"}]},
      "mark": {"type": "text", "align": "left", "baseline": "middle", "font": "DejaVu Sans", "fontSize": 15, "color": "#131722"},
      "encoding": {
        "x": {"datum": 291.1, "type": "quantitative", "scale": {"domain": [0.39, 288.47], "nice": false, "zero": false}, "axis": null},
        "y": {"datum": 1.40512, "type": "quantitative", "scale": {"domain": [1.29125, 1.40764], "nice": false, "zero": false}, "axis": null},
        "text": {"field": "t"}
      }
    },
    {
      "data": {"values": [{"t": "Continuum_Economics created with TradingView.com, Aug 20, 2026 09:57 UTC+8"}]},
      "mark": {"type": "text", "align": "left", "baseline": "middle", "font": "Open Sans", "fontSize": 14.5, "color": "#131722"},
      "encoding": {
        "x": {"datum": 0.39, "type": "quantitative", "scale": {"domain": [0.39, 288.47], "nice": false, "zero": false}, "axis": null},
        "y": {"datum": 1.41012, "type": "quantitative", "scale": {"domain": [1.29125, 1.40764], "nice": false, "zero": false}, "axis": null},
        "text": {"field": "t"}
      }
    },
    {
      "data": {"name": "heads"},
      "mark": {"type": "text", "align": "center", "baseline": "middle", "font": "Open Sans", "fontSize": 23.5, "fontWeight": "bold", "color": "#131722"},
      "encoding": {
        "x": {"field": "n", "type": "quantitative", "scale": {"domain": [0.39, 288.47], "nice": false, "zero": false}, "axis": null},
        "y": {"field": "p", "type": "quantitative", "scale": {"domain": [1.29125, 1.40764], "nice": false, "zero": false}, "axis": null},
        "text": {"field": "t"}
      }
    },
    {
      "data": {"values": [{"dir": "up"}]},
      "mark": {"type": "point", "shape": "M-0.97,0.03L0,-0.98L0.97,0.03M0,-0.98L0,0.98", "size": 1089, "filled": false, "stroke": "#089981", "strokeWidth": 6, "strokeCap": "round", "strokeJoin": "round", "opacity": 1},
      "encoding": {
        "x": {"datum": 273.9, "type": "quantitative", "scale": {"domain": [0.39, 288.47], "nice": false, "zero": false}, "axis": null},
        "y": {"datum": 1.40234, "type": "quantitative", "scale": {"domain": [1.29125, 1.40764], "nice": false, "zero": false}, "axis": null}
      }
    },
    {
      "data": {"values": [{"t": "17"}]},
      "mark": {"type": "text", "align": "left", "baseline": "middle", "font": "DejaVu Sans", "fontSize": 27, "fontWeight": "bold", "color": "#131722"},
      "encoding": {
        "x": {"datum": 0.71, "type": "quantitative", "scale": {"domain": [0.39, 288.47], "nice": false, "zero": false}, "axis": null},
        "y": {"datum": 1.28065, "type": "quantitative", "scale": {"domain": [1.29125, 1.40764], "nice": false, "zero": false}, "axis": null},
        "text": {"field": "t"}
      }
    },
    {
      "data": {"values": [{"t": "TradingView"}]},
      "mark": {"type": "text", "align": "left", "baseline": "middle", "font": "Open Sans", "fontSize": 25, "fontWeight": "bold", "color": "#131722"},
      "encoding": {
        "x": {"datum": 8.18, "type": "quantitative", "scale": {"domain": [0.39, 288.47], "nice": false, "zero": false}, "axis": null},
        "y": {"datum": 1.28065, "type": "quantitative", "scale": {"domain": [1.29125, 1.40764], "nice": false, "zero": false}, "axis": null},
        "text": {"field": "t"}
      }
    }
  ]
}
